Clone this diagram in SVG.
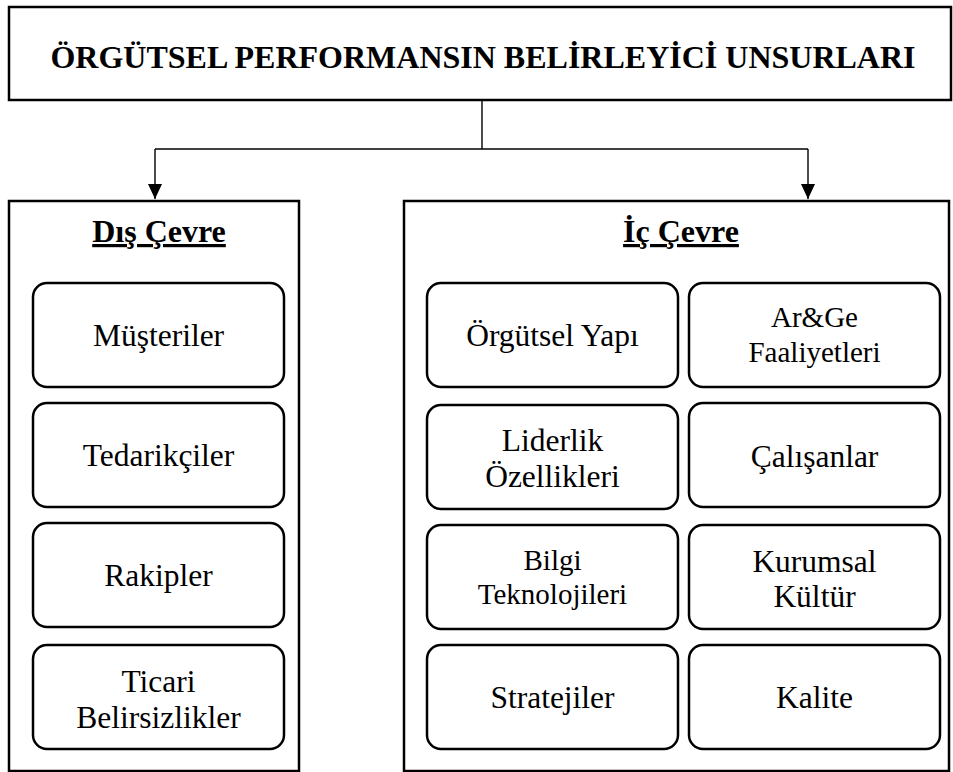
<svg xmlns="http://www.w3.org/2000/svg" width="953" height="772" viewBox="0 0 953 772">
<defs>
<style>
.frame{fill:#fff;stroke:#000;stroke-width:2.5}
.item{fill:#fff;stroke:#000;stroke-width:2.5}
.t{font-family:'Liberation Serif','Times New Roman',serif;fill:#000;stroke:none;text-anchor:middle}
.big{font-size:31.5px}
.small{font-size:29px}
.hdr{font-size:32px;font-weight:bold}
.conn{fill:none;stroke:#000;stroke-width:1.4}
</style>
<marker id="arr" viewBox="0 0 15 14" refX="15" refY="7" markerWidth="15" markerHeight="14" markerUnits="userSpaceOnUse" orient="auto">
<path d="M0,0 L15,7 L0,14 Z" fill="#000"/>
</marker>
</defs>
<rect width="953" height="772" fill="#fff"/>

<g id="root">
<rect class="frame" x="9" y="7" width="942" height="93"/>
<text class="t hdr" x="483" y="68">ÖRGÜTSEL PERFORMANSIN BELİRLEYİCİ UNSURLARI</text>
</g>

<g id="connectors">
<polyline class="conn" points="482,100 482,149"/>
<polyline class="conn" points="155,149 808,149"/>
<line class="conn" x1="155" y1="149" x2="155" y2="199" marker-end="url(#arr)"/>
<line class="conn" x1="808" y1="149" x2="808" y2="199" marker-end="url(#arr)"/>
</g>

<g id="dis-cevre">
<rect class="frame" x="9" y="201" width="290" height="570"/>
<text class="t hdr" x="159" y="242" text-decoration="underline">Dış Çevre</text>
</g>

<g id="ic-cevre">
<rect class="frame" x="404" y="201" width="545" height="570"/>
<text class="t hdr" x="681" y="242" text-decoration="underline">İç Çevre</text>
</g>

<g id="musteriler">
<rect class="item" x="33" y="283" width="251" height="104" rx="14"/>
<text class="t big" x="158.5" y="346">Müşteriler</text>
</g>
<g id="tedarikciler">
<rect class="item" x="33" y="403" width="251" height="104" rx="14"/>
<text class="t big" x="158.5" y="466">Tedarikçiler</text>
</g>
<g id="rakipler">
<rect class="item" x="33" y="523" width="251" height="104" rx="14"/>
<text class="t big" x="158.5" y="586">Rakipler</text>
</g>
<g id="ticari">
<rect class="item" x="33" y="645" width="251" height="104" rx="14"/>
<text class="t big" x="158.5" y="692">Ticari</text>
<text class="t big" x="158.5" y="728">Belirsizlikler</text>
</g>

<g id="orgutsel-yapi">
<rect class="item" x="427" y="283" width="251" height="104" rx="14"/>
<text class="t big" x="552.5" y="346">Örgütsel Yapı</text>
</g>
<g id="arge">
<rect class="item" x="689" y="283" width="251" height="104" rx="14"/>
<text class="t small" x="814.5" y="327">Ar&amp;Ge</text>
<text class="t small" x="814.5" y="362">Faaliyetleri</text>
</g>
<g id="liderlik">
<rect class="item" x="427" y="405" width="251" height="104" rx="14"/>
<text class="t big" x="552.5" y="451">Liderlik</text>
<text class="t big" x="552.5" y="487">Özellikleri</text>
</g>
<g id="calisanlar">
<rect class="item" x="689" y="403" width="251" height="104" rx="14"/>
<text class="t big" x="814.5" y="467">Çalışanlar</text>
</g>
<g id="bilgi">
<rect class="item" x="427" y="525" width="251" height="104" rx="14"/>
<text class="t small" x="552.5" y="570">Bilgi</text>
<text class="t small" x="552.5" y="604">Teknolojileri</text>
</g>
<g id="kurumsal">
<rect class="item" x="689" y="525" width="251" height="104" rx="14"/>
<text class="t big" x="814.5" y="572">Kurumsal</text>
<text class="t big" x="814.5" y="607">Kültür</text>
</g>
<g id="stratejiler">
<rect class="item" x="427" y="645" width="251" height="104" rx="14"/>
<text class="t big" x="552.5" y="708">Stratejiler</text>
</g>
<g id="kalite">
<rect class="item" x="689" y="645" width="251" height="104" rx="14"/>
<text class="t big" x="814.5" y="708">Kalite</text>
</g>
</svg>
